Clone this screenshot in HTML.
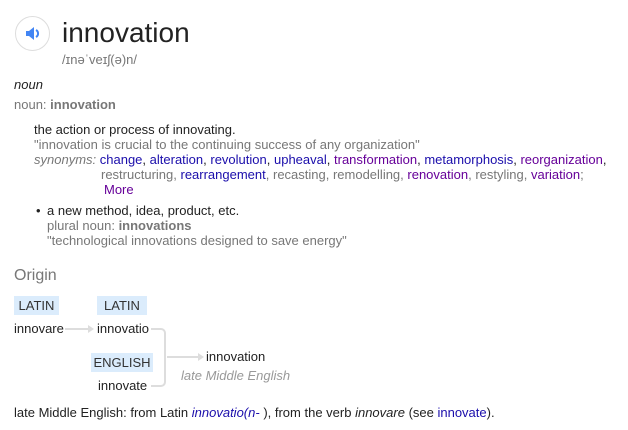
<!DOCTYPE html>
<html><head><meta charset="utf-8"><style>
body{margin:0;width:628px;height:430px;background:#fff;font-family:"Liberation Sans",Arial,sans-serif;font-size:13px;color:#222;position:relative;overflow:hidden}
.a{position:absolute;white-space:nowrap;line-height:15px}
.g{color:#777}
.l{color:#1a0dab}
.v{color:#609}
.tag{position:absolute;background:#dbecfc;color:#333;font-size:13px;line-height:19px;text-align:center}
</style></head><body>
<div class="a" style="left:15px;top:16px;width:33px;height:33px;border:1px solid #ddd;border-radius:50%;">
<svg width="33" height="33" viewBox="0 0 33 33"><path d="M10 14h3l5-4v13l-5-4h-3z" fill="#4285f4"/><path d="M20 13a4 4 0 0 1 0 7" stroke="#4285f4" stroke-width="2" fill="none"/></svg></div>
<div class="a" style="left:62px;top:16px;font-size:28px;line-height:34px;color:#222">innovation</div>
<div class="a g" style="left:62px;top:52px">/ɪnəˈveɪʃ(ə)n/</div>
<div class="a" style="left:14px;top:77px;font-style:italic">noun</div>
<div class="a g" style="left:14px;top:97px">noun: <b>innovation</b></div>
<div class="a" style="left:34px;top:122px">the action or process of innovating.</div>
<div class="a g" style="left:34px;top:137px">"innovation is crucial to the continuing success of any organization"</div>
<div class="a" style="left:34px;top:152px"><i class="g">synonyms:</i> <span class="l">change</span>, <span class="l">alteration</span>, <span class="l">revolution</span>, <span class="l">upheaval</span>, <span class="v">transformation</span>, <span class="l">metamorphosis</span>, <span class="v">reorganization</span>,</div>
<div class="a g" style="left:101px;top:167px">restructuring, <span class="l">rearrangement</span>, recasting, remodelling, <span class="v">renovation</span>, restyling, <span class="v">variation</span>;</div>
<div class="a v" style="left:104px;top:182px">More</div>
<div class="a" style="left:36px;top:203px">•</div>
<div class="a" style="left:47px;top:203px">a new method, idea, product, etc.</div>
<div class="a g" style="left:47px;top:218px">plural noun: <b>innovations</b></div>
<div class="a g" style="left:47px;top:233px">"technological innovations designed to save energy"</div>
<div class="a g" style="left:14px;top:267px;font-size:16px;line-height:18px">Origin</div>
<div class="tag" style="left:14px;top:296px;width:45px">LATIN</div>
<div class="tag" style="left:97px;top:296px;width:50px">LATIN</div>
<div class="tag" style="left:91px;top:353px;width:62px">ENGLISH</div>
<div class="a" style="left:14px;top:321px">innovare</div>
<div class="a" style="left:97px;top:321px">innovatio</div>
<div class="a" style="left:98px;top:378px">innovate</div>
<div class="a" style="left:206px;top:349px">innovation</div>
<div class="a g" style="left:181px;top:368px;font-style:italic;color:#999">late Middle English</div>
<svg class="a" width="628" height="430" style="left:0;top:0">
<g stroke="#ddd" stroke-width="2" fill="none">
<line x1="65" y1="329" x2="88" y2="329"/>
<path d="M151 329h10a4 4 0 0 1 4 4v49a4 4 0 0 1-4 4h-10"/>
<line x1="167" y1="357" x2="198" y2="357"/>
</g>
<path d="M88 325l6 4-6 4z" fill="#ddd"/><path d="M198 353l6 4-6 4z" fill="#ddd"/>
</svg>
<div class="a" style="left:14px;top:405px">late Middle English: from Latin <i class="l">innovatio(n-</i> ), from the verb <i>innovare</i> (see <span class="l">innovate</span>).</div>
</body></html>
